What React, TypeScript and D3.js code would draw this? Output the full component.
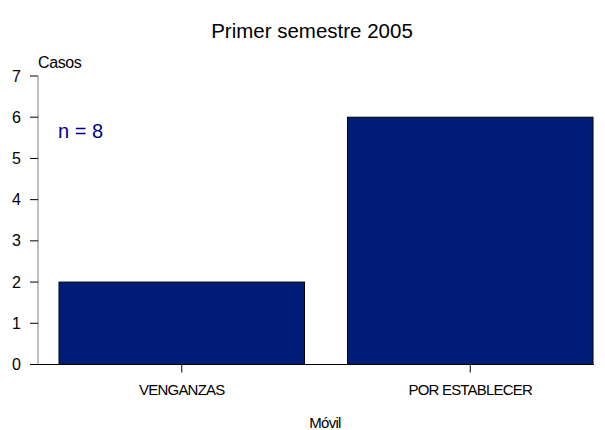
import React from "react";
import * as d3 from "d3";

const categories = ["VENGANZAS", "POR ESTABLECER"];
const values = [2, 6];
const yTicks = [0, 1, 2, 3, 4, 5, 6, 7];
const title = "Primer semestre 2005";
const yLabel = "Casos";
const xLabel = "Móvil";
const note = "n = 8";

export default function App() {
  const W = 605, H = 430;
  const x = d3.scaleBand<string>().domain(categories).range([59, 593]).paddingInner(0.149).paddingOuter(0);
  const y = d3.scaleLinear().domain([0, 7]).range([364.5, 76]);
  const axisX = 38;
  const font = "Arial, 'Liberation Sans', sans-serif";
  return (
    <svg width={W} height={H} style={{ position: "absolute", left: 0, top: 0 }} fontFamily={font}>
      <rect x={0} y={0} width={W} height={H} fill="#fff" />
      <text x={312} y={38} fontSize={20.5} textAnchor="middle" fill="#000">{title}</text>
      <text x={38} y={68} fontSize={16} fill="#000" letterSpacing={-0.4}>{yLabel}</text>
      <text x={58} y={138} fontSize={20} fill="#000080">{note}</text>
      {categories.map((c, i) => (
        <rect key={c} x={x(c)!} y={y(values[i])} width={x.bandwidth()} height={y(0) - y(values[i])}
          fill="#001E78" stroke="#000" strokeWidth={1} />
      ))}
      <line x1={axisX} x2={axisX} y1={y(7)} y2={y(0)} stroke="#808080" strokeWidth={1} />
      {yTicks.map(t => (
        <g key={t}>
          <line x1={axisX - 8} x2={axisX} y1={y(t)} y2={y(t)} stroke="#000" strokeWidth={1} />
          <text x={21} y={y(t)} dy="0.35em" fontSize={16} textAnchor="end" fill="#000">{t}</text>
        </g>
      ))}
      <line x1={axisX - 8} x2={594} y1={y(0)} y2={y(0)} stroke="#000" strokeWidth={1} />
      {categories.map(c => {
        const cx = x(c)! + x.bandwidth() / 2;
        return (
          <g key={c}>
            <line x1={cx} x2={cx} y1={y(0)} y2={y(0) + 8} stroke="#000" strokeWidth={1} />
            <text x={cx} y={395} fontSize={15} textAnchor="middle" fill="#000" letterSpacing={-0.8}>{c}</text>
          </g>
        );
      })}
      <text x={325} y={428} fontSize={15} textAnchor="middle" fill="#000" letterSpacing={-0.7}>{xLabel}</text>
    </svg>
  );
}
